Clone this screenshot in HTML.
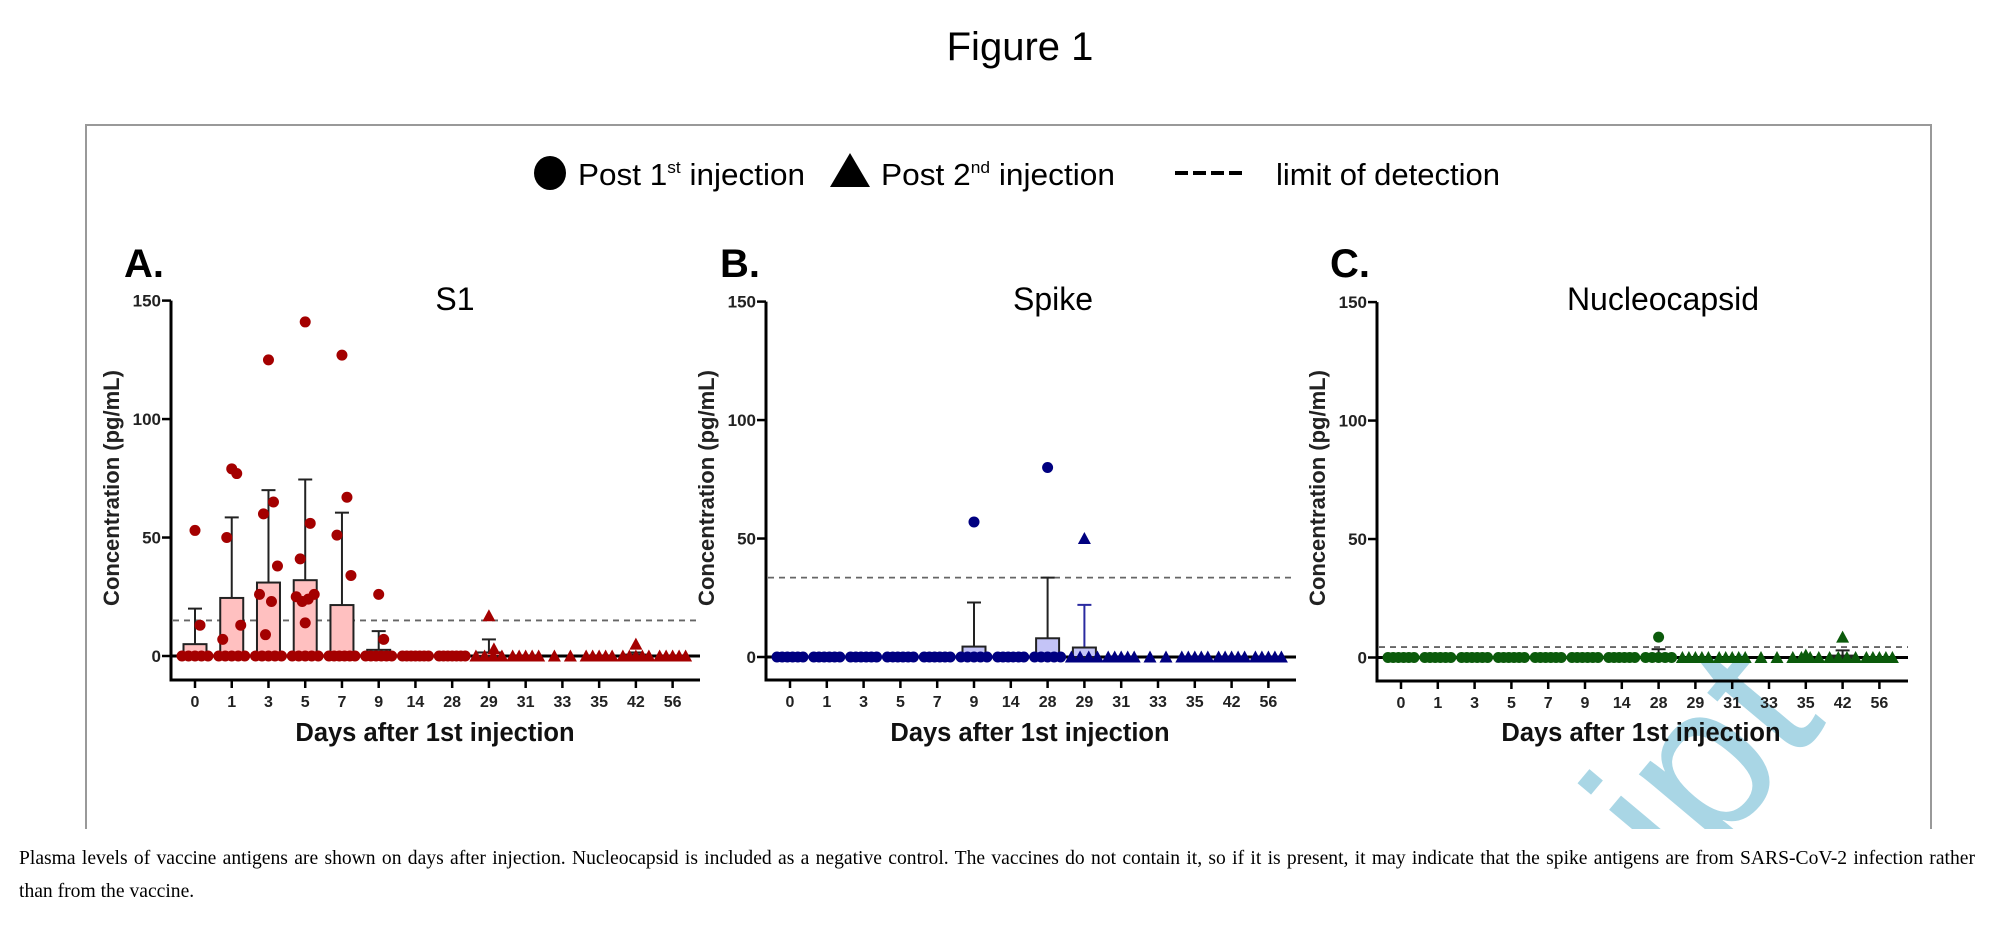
<!DOCTYPE html>
<html><head><meta charset="utf-8"><style>
html,body{margin:0;padding:0;background:#fff;}
body{width:2000px;height:920px;overflow:hidden;position:relative;}
svg text{font-family:"Liberation Sans",Arial,sans-serif;}
.cap{position:absolute;left:19px;font-family:"Liberation Serif","Times New Roman",serif;font-size:19.6px;color:#000;white-space:nowrap;}
</style></head><body>
<svg id="fig" width="2000" height="920" viewBox="0 0 2000 920" xmlns="http://www.w3.org/2000/svg">
  <defs><clipPath id="frameclip"><rect x="86" y="125" width="1845" height="704"/></clipPath></defs>
  <text x="1020" y="60" text-anchor="middle" font-size="40" fill="#000">Figure 1</text>
  <path d="M86,829 V125 H1931 V829" fill="none" stroke="#999" stroke-width="2"/>
  <g clip-path="url(#frameclip)">
    <text transform="translate(1713,773) rotate(-50)" x="-109" y="55" font-size="210" fill="#a9d6e5">ipt</text>
  </g>
  <g>
    <ellipse cx="550" cy="173" rx="16" ry="17" fill="#000"/>
    <text x="578" y="185" font-size="31" textLength="227" lengthAdjust="spacingAndGlyphs">Post 1<tspan font-size="17" dy="-12">st</tspan><tspan dy="12"> injection</tspan></text>
    <polygon points="830,187 870,187 850,153" fill="#000"/>
    <text x="881" y="185" font-size="31" textLength="234" lengthAdjust="spacingAndGlyphs">Post 2<tspan font-size="17" dy="-12">nd</tspan><tspan dy="12"> injection</tspan></text>
    <line x1="1175" y1="173" x2="1243" y2="173" stroke="#000" stroke-width="4" stroke-dasharray="13,5"/>
    <text x="1276" y="185" font-size="31" textLength="224" lengthAdjust="spacingAndGlyphs">limit of detection</text>
  </g>
  <g id="panels"></g>
</svg>
<div class="cap" style="top:848px;width:1956px;text-align:justify;text-align-last:justify;">Plasma levels of vaccine antigens are shown on days after injection. Nucleocapsid is included as a negative control. The vaccines do not contain it, so if it is present, it may indicate that the spike antigens are from SARS-CoV-2 infection rather</div>
<div class="cap" style="top:881px;">than from the vaccine.</div>
<script>
const days = ["0","1","3","5","7","9","14","28","29","31","33","35","42","56"];
const yTicks = [0,50,100,150];
// Panel A (S1)
const aBars = [5,24.5,31,32,21.5,2.6,0,0,1.5,0,0,0,0.6,0];
const aErr = [20,58.5,70,74.5,60.5,10.5,0,0,7,0,0,0,1.5,0];
const aCircles = [[53,13,0,0,0,0,0],[79,77,50,13,7,0,0,0,0,0],[125,65,60,38,26,23,9,0,0,0,0,0],[141,56,41,26,25,24,23,14,0,0,0,0,0],[127,67,51,34,0,0,0,0,0,0],[26,7,0,0,0,0,0,0],[0,0,0,0,0,0,0],[0,0,0,0,0,0,0],[],[],[],[],[],[]];
const aTriangles = [[],[],[],[],[],[],[],[],[17,3,0,0,0,0],[0,0,0,0,0],[0,0],[0,0,0,0,0],[5,0,0,0,0,0],[0,0,0,0,0]];
const aLod = 15;
// Panel B (Spike)
const bBars = [0,0,0,0,0,4.4,0,7.9,4,0,0,0,0,0];
const bErr = [0,0,0,0,0,23,0,33.5,22,0,0,0,0,0];
const bCircles = [[0,0,0,0,0,0],[0,0,0,0,0,0],[0,0,0,0,0,0],[0,0,0,0,0,0],[0,0,0,0,0,0],[57,0,0,0,0,0],[0,0,0,0,0,0],[80,0,0,0,0,0],[],[],[],[],[],[]];
const bTriangles = [[],[],[],[],[],[],[],[],[50,0,0,0,0],[0,0,0,0,0],[0,0],[0,0,0,0,0],[0,0,0,0,0],[0,0,0,0,0]];
const bLod = 33.5;
// Panel C (Nucleocapsid)
const cBars = [0,0,0,0,0,0,0,0.8,0,0,0,0,0.8,0];
const cErr = [0,0,0,0,0,0,0,3.5,0,0,0,0,3,0];
const cCircles = [[0,0,0,0,0,0],[0,0,0,0,0,0],[0,0,0,0,0,0],[0,0,0,0,0,0],[0,0,0,0,0,0],[0,0,0,0,0,0],[0,0,0,0,0,0],[8.6,0,0,0,0,0],[],[],[],[],[],[]];
const cTriangles = [[],[],[],[],[],[],[],[],[0,0,0,0,0],[0,0,0,0,0],[0,0],[1,0,0,0,0],[8.6,0,0,0,0],[0,0,0,0,0]];
const cLod = 4.4;

const NS = "http://www.w3.org/2000/svg";
const root = document.getElementById('panels');
function mk(tag, attrs, parent, text){
  const e = document.createElementNS(NS, tag);
  for (const k in attrs) e.setAttribute(k, attrs[k]);
  if (text !== undefined) e.textContent = text;
  parent.appendChild(e);
  return e;
}
const panels = [
  {key:'a', letter:'A.', title:'S1', ax:171, y0:656, xAxisY:680, xEnd:700, c0:195, sp:36.74, letterX:124, titleX:455, yTitleX:111, xTitleX:435,
   color:'#a40000', fill:'#ffc0c0', errColor:'#222', bars:aBars, err:aErr, circ:aCircles, tri:aTriangles, lod:aLod},
  {key:'b', letter:'B.', title:'Spike', ax:766, y0:657, xAxisY:680, xEnd:1296, c0:790, sp:36.8, letterX:720, titleX:1053, yTitleX:706, xTitleX:1030,
   color:'#000080', fill:'#c4c4f7', errColor:'#222', bars:bBars, err:bErr, circ:bCircles, tri:bTriangles, lod:bLod},
  {key:'c', letter:'C.', title:'Nucleocapsid', ax:1377, y0:657.5, xAxisY:681, xEnd:1908, c0:1401, sp:36.8, letterX:1330, titleX:1663, yTitleX:1317, xTitleX:1641,
   color:'#0b5a0b', fill:'#9fd09f', errColor:'#222', bars:cBars, err:cErr, circ:cCircles, tri:cTriangles, lod:cLod}
];
const PXU = 355.4/150;
panels.forEach(p=>{
  const g = mk('g', {}, root);
  
  
  const yS = v => p.y0 - v*PXU;
  const xS = i => p.c0 + i*p.sp;
  const lt = mk('text', {x:p.letterX, y:277, 'font-size':40, 'font-weight':'bold'}, g, p.letter);
  
  
  const tt = mk('text', {x:p.titleX, y:310, 'font-size':32, 'text-anchor':'middle'}, g, p.title);
  
  
  const ya = mk('line', {x1:p.ax, y1:yS(150), x2:p.ax, y2:p.xAxisY+1.5, stroke:'#000', 'stroke-width':3}, g);
  
  
  yTicks.forEach(t=>{
    const tk = mk('line', {x1:p.ax-9, y1:yS(t), x2:p.ax, y2:yS(t), stroke:'#000', 'stroke-width':2.5}, g);
    
    
    const tl = mk('text', {x:p.ax-10, y:yS(t)+6, 'font-size':17, 'font-weight':'bold', 'text-anchor':'end', fill:'#222'}, g, String(t));
    
    
  });
  const yt = mk('text', {transform:'translate('+(p.yTitleX+8)+',488) rotate(-90)', 'font-size':22, 'font-weight':'bold', 'text-anchor':'middle', fill:'#222'}, g, 'Concentration (pg/mL)');
  
  
  const xa = mk('line', {x1:p.ax, y1:p.xAxisY, x2:p.xEnd, y2:p.xAxisY, stroke:'#000', 'stroke-width':3}, g);
  
  
  days.forEach((d,i)=>{
    const tk = mk('line', {x1:xS(i), y1:p.xAxisY, x2:xS(i), y2:p.xAxisY+8, stroke:'#000', 'stroke-width':2.5}, g);
    
    
    const tl = mk('text', {x:xS(i), y:p.xAxisY+27, 'font-size':16, 'font-weight':'bold', 'text-anchor':'middle', fill:'#222'}, g, d);
    
    
  });
  const xt = mk('text', {x:p.xTitleX, y:741, 'font-size':25.5, 'font-weight':'bold', 'text-anchor':'middle', fill:'#111'}, g, 'Days after 1st injection');
  
  
  const zl = mk('line', {x1:p.ax, y1:p.y0, x2:p.xEnd, y2:p.y0, stroke:'#000', 'stroke-width':3}, g);
  
  
  const ld = mk('line', {x1:p.ax+2, y1:yS(p.lod), x2:p.xEnd, y2:yS(p.lod), stroke:'#666', 'stroke-width':1.8, 'stroke-dasharray':'6,5'}, g);
  
  
  days.forEach((d,i)=>{
    const ec = (p.key==='b' && i===8) ? '#2a2aa0' : p.errColor;
    if (p.err[i] > p.bars[i] + 0.5) {
      const eb = mk('line', {x1:xS(i), y1:yS(p.bars[i]), x2:xS(i), y2:yS(p.err[i]), stroke:ec, 'stroke-width':2}, g);
      
      
      const ec2 = mk('line', {x1:xS(i)-7, y1:yS(p.err[i]), x2:xS(i)+7, y2:yS(p.err[i]), stroke:ec, 'stroke-width':2}, g);
      
      
    }
    if (p.bars[i] > 0.3) {
      const b = mk('rect', {x:xS(i)-11.5, y:yS(p.bars[i]), width:23, height:p.bars[i]*PXU, fill:p.fill, stroke:'#222', 'stroke-width':2}, g);
      
      
    }
  });
  days.forEach((d,i)=>{
    const drawSet = (vals, shape)=>{
      const zeros = vals.filter(v=>v===0).length;
      let zi = 0, ni = 0;
      vals.forEach(v=>{
        let off;
        if (v===0) { off = zeros>1 ? -13 + 26*zi/(zeros-1) : 0; zi++; }
        else { off = [0,5,-5,9,-9,3,-3][ni%7]; ni++; }
        if (d==='33') off = (zi===1 && v===0) ? -8 : 8;
        const cx = xS(i)+off, cy = yS(v);
        let m;
        if (shape==='c') m = mk('circle', {cx:cx, cy:cy, r:5.5, fill:p.color}, g);
        else m = mk('polygon', {points:(cx-6.5)+','+(cy+5.5)+' '+(cx+6.5)+','+(cy+5.5)+' '+cx+','+(cy-6.5), fill:p.color}, g);
        
        
      });
    };
    drawSet(p.circ[i], 'c');
    drawSet(p.tri[i], 't');
  });
});
</script>
</body></html>
